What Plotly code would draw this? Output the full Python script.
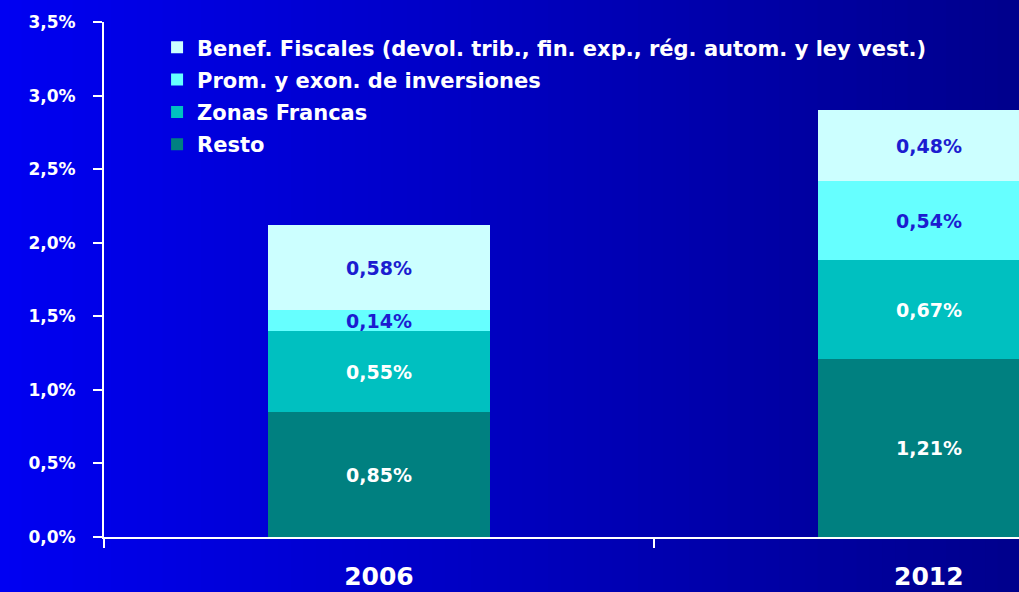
import plotly.graph_objects as go

# datos (% del PIB)
anios = ['2006', '2012']
series = [
    'Resto',
    'Zonas Francas',
    'Prom. y exon. de inversiones',
    'Benef. Fiscales (devol. trib., fin. exp., rég. autom. y ley vest.)',
]
resto = [0.85, 1.21]
zonas_francas = [0.55, 0.67]
prom_inversiones = [0.14, 0.54]
benef_fiscales = [0.58, 0.48]

valores = [resto, zonas_francas, prom_inversiones, benef_fiscales]
colores = ['#008080', '#00C0C0', '#66FFFF', '#CCFFFF']
color_texto = ['white', 'white', '#1c1cd0', '#1c1cd0']
FUENTE = 'DejaVu Sans'

fig = go.Figure()
for i, (nombre, vals) in enumerate(zip(series, valores)):
    fig.add_trace(go.Bar(
        x=anios, y=vals, name=nombre, legendgroup=str(i), legendrank=10 - i,
        marker=dict(color=colores[i], line=dict(width=0)),
        width=0.404,
        texttemplate='%{y:.2f}%', textposition='inside', insidetextanchor='middle',
        constraintext='none',
        textfont=dict(color=color_texto[i], size=19, family=FUENTE, weight='bold'),
        hoverinfo='skip',
    ))

# fondo degradado (azul -> azul oscuro)
n = 80
x0p, x1p = -104 / 915 - 0.005, 1.005
for k in range(n):
    t = k / (n - 1)
    b = int(round(242 - (242 - 140) * t))
    fig.add_shape(type='rect', xref='paper', yref='paper',
                  x0=x0p + (x1p - x0p) * k / n, x1=x0p + (x1p - x0p) * (k + 1) / n + 0.002,
                  y0=-55 / 515 - 0.02, y1=1 + 22 / 515 + 0.02,
                  fillcolor=f'rgb(0,0,{b})', line=dict(width=0), layer='below')

fig.update_layout(
    width=1019, height=592,
    margin=dict(l=104, r=0, t=22, b=55),
    barmode='stack', bargap=0,
    separators=',.',
    paper_bgcolor='#0000c0', plot_bgcolor='rgba(0,0,0,0)',
    font=dict(family=FUENTE, color='white', weight='bold'),
    uniformtext=dict(minsize=19, mode='show'),
    showlegend=True,
    legend=dict(x=0.058, y=0.99, xanchor='left', yanchor='top',
                traceorder='grouped', tracegroupgap=2,
                bgcolor='rgba(0,0,0,0)', itemwidth=30,
                font=dict(size=21, color='white', family=FUENTE, weight='bold')),
    xaxis=dict(type='category', range=[-0.5, 1.164], tickson='boundaries',
               showline=True, linecolor='white', linewidth=2,
               ticks='outside', ticklen=9, tickwidth=2, tickcolor='white',
               tickfont=dict(size=25, color='white', family=FUENTE, weight='bold'),
               ticklabelstandoff=16, showgrid=False, zeroline=False),
    yaxis=dict(range=[0, 3.5], dtick=0.5, tickformat='.1f', ticksuffix='%',
               showline=True, linecolor='white', linewidth=2,
               ticks='outside', ticklen=9, tickwidth=2, tickcolor='white',
               tickfont=dict(size=17, color='white', family=FUENTE, weight='bold'),
               ticklabelstandoff=14, showgrid=False, zeroline=False),
)

fig.write_html('out.html', config={'displayModeBar': False},
               post_script="document.body.style.margin='0';document.body.style.overflow='hidden';")
